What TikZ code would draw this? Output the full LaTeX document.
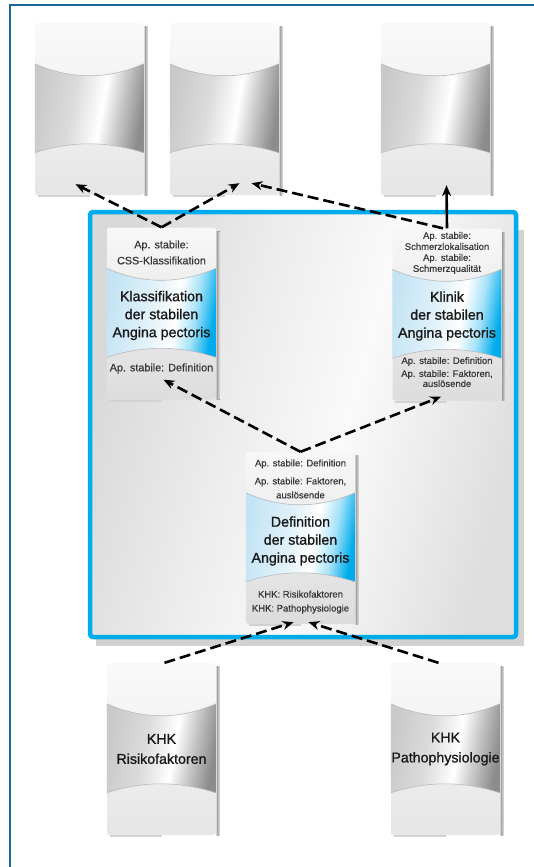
\documentclass[tikz,border=0pt]{standalone}
\usepackage{fontspec}
\setmainfont{Liberation Sans}
\newfontfamily\titlefont[FakeBold=1.1]{Liberation Sans}
\newfontfamily\entryfont[FakeBold=0.5]{Liberation Sans}
\usetikzlibrary{positioning,arrows.meta}

\definecolor{framblue}{RGB}{24,104,152}
\definecolor{boxcyan}{RGB}{0,172,236}
\definecolor{bandlight}{RGB}{196,228,245}
\definecolor{txtdark}{RGB}{25,25,25}
\definecolor{txtsoft}{RGB}{55,55,55}

\pgfdeclarehorizontalshading{greyband}{100bp}{color(0bp)=(gray!42); color(25bp)=(gray!42); color(42bp)=(gray!28); color(56bp)=(white); color(64bp)=(gray!40); color(75bp)=(gray!90); color(100bp)=(gray!90)}
\pgfdeclarehorizontalshading{blueband}{100bp}{color(0bp)=(bandlight); color(25bp)=(bandlight); color(45bp)=(bandlight!50!white); color(57bp)=(white); color(66bp)=(boxcyan!35!white); color(75bp)=(boxcyan); color(100bp)=(boxcyan)}
\pgfdeclarehorizontalshading{boxfill}{100bp}{color(0bp)=(gray!30); color(25bp)=(gray!30); color(42bp)=(gray!14); color(55bp)=(gray!4); color(66bp)=(gray!16); color(75bp)=(gray!26); color(100bp)=(gray!26)}

\newcommand\smallsz{\entryfont\fontsize{9.5}{11}\selectfont}
\newcommand\bigsz{\titlefont\fontsize{14.2}{18}\selectfont}

% middle band of a card
\newcommand\cardband[2]{%
  \begin{scope}[shift={(#1.north west)}]
    \shade[shading=#2,shading angle=-10] (0,41) .. controls (36,57) and (73,57) .. (109,41)
      -- (109,130) .. controls (73,118) and (36,118) .. (0,130) -- cycle;
    \draw[gray!55,line width=.6pt] (0,41) .. controls (36,57) and (73,57) .. (109,41);
    \draw[gray!55,line width=.6pt] (0,130) .. controls (36,118) and (73,118) .. (109,130);
  \end{scope}
  \fill[left color=gray!75,right color=gray!25] ([xshift=.5pt,yshift=-4pt]#1.north east) rectangle ([xshift=3.5pt]#1.south east);
  \fill[gray!35] ([xshift=3pt]#1.south west) rectangle ([xshift=55pt,yshift=-2pt]#1.south west);}

\tikzset{
  cardbase/.style={rectangle,minimum width=109pt,minimum height=172pt,inner sep=0pt,
    rounded corners=2.5pt},
  greycard/.style={cardbase,top color=gray!4,bottom color=gray!20},
  bluecard/.style={cardbase,top color=gray!6,bottom color=gray!27},
  maintxt/.style={font=\bigsz,text=txtdark,align=center,inner sep=0pt},
  smalltxt/.style={font=\smallsz,text=txtsoft,align=center,inner sep=0pt},
  linkarrow/.style={line width=2.6pt,dash pattern=on 11pt off 5pt,-{Stealth[length=11pt,width=9pt]}},
}

\begin{document}
\begin{tikzpicture}[x=1pt,y=-1pt]
 \useasboundingbox (0,0) rectangle (534,867);
 \draw[framblue,line width=2.5pt] (10,880) -- (10,5) -- (545,5);

 % the framed group
 \fill[gray!35] (96,230) rectangle (524,646);
 \shadedraw[shading=boxfill,shading angle=-15,draw=boxcyan,line width=4.5pt,rounded corners=3pt]
   (90,212) rectangle (516,637);

 % cards
 \node[greycard] (c1) at (89.5,109) {};
 \node[greycard] (c2) at (224.5,109) {};
 \node[greycard] (c3) at (435.5,109) {};
 \node[bluecard] (k) at (161.5,313.5) {};
 \node[bluecard] (kl) at (447,314.5) {};
 \node[bluecard] (d) at (300.5,538) {};
 \node[greycard] (r) at (161.5,749) {};
 \node[greycard] (p) at (445.5,749) {};
 \foreach \n in {c1,c2,c3,r,p} {\cardband{\n}{greyband}}
 \foreach \n in {k,kl,d} {\cardband{\n}{blueband}}

 % titles
 \node[maintxt] (kmain) at ([yshift=-2pt]k.center) {Klassifikation\\der stabilen\\Angina pectoris};
 \node[maintxt] (klmain) at ([yshift=-1.5pt]kl.center) {Klinik\\der stabilen\\Angina pectoris};
 \node[maintxt] (dmain) at ([yshift=-3pt]d.center) {Definition\\der stabilen\\Angina pectoris};
 \node[maintxt,font=\titlefont\fontsize{14.2}{20}\selectfont] (rmain) at (r.center) {KHK\\Risikofaktoren};
 \node[maintxt,font=\titlefont\fontsize{14.2}{20}\selectfont] (pmain) at (p.center) {KHK\\Pathophysiologie};

 % small entries
 \node[smalltxt,font=\entryfont\fontsize{10.8}{16}\selectfont,below=13pt of k.north] (ktop) {Ap. stabile:\\CSS-Klassifikation};
 \node[smalltxt,font=\entryfont\fontsize{10.8}{16}\selectfont,above=26pt of k.south] (kbot) {Ap. stabile: Definition};
 \node[smalltxt,below=3.5pt of kl.north] (kltop) {Ap. stabile:\\Schmerzlokalisation\\Ap. stabile:\\Schmerzqualität};
 \node[smalltxt,font=\entryfont\fontsize{9.5}{10}\selectfont,above=13.5pt of kl.south] (klbot) {Ap. stabile: Definition\\[3pt]Ap. stabile: Faktoren,\\auslösende};
 \node[smalltxt,below=7.5pt of d.north] (dtop) {Ap. stabile: Definition\\[7pt]Ap. stabile: Faktoren,\\[3pt]auslösende};
 \node[smalltxt,above=10.5pt of d.south] (dbot) {KHK: Risikofaktoren\\[3pt]KHK: Pathophysiologie};

 % links
 \draw[linkarrow] (k.north) -- ([xshift=-14pt,yshift=11pt]c1.south);
 \draw[linkarrow] (k.north) -- ([xshift=15pt,yshift=12pt]c2.south);
 \draw[linkarrow] ([xshift=-4pt]kl.north) -- ([xshift=27pt,yshift=12pt]c2.south);
 \draw[linkarrow,solid] (kl.north) -- ([xshift=11pt,yshift=10pt]c3.south);
 \draw[linkarrow] (d.north) -- ([xshift=2pt,yshift=20pt]k.south);
 \draw[linkarrow] (d.north) -- ([xshift=-6pt,yshift=4pt]kl.south);
 \draw[linkarrow] ([xshift=3pt]r.north) -- ([xshift=-7pt,yshift=2pt]d.south);
 \draw[linkarrow] ([xshift=-7pt]p.north) -- ([xshift=8pt,yshift=2pt]d.south);
\end{tikzpicture}
\end{document}
